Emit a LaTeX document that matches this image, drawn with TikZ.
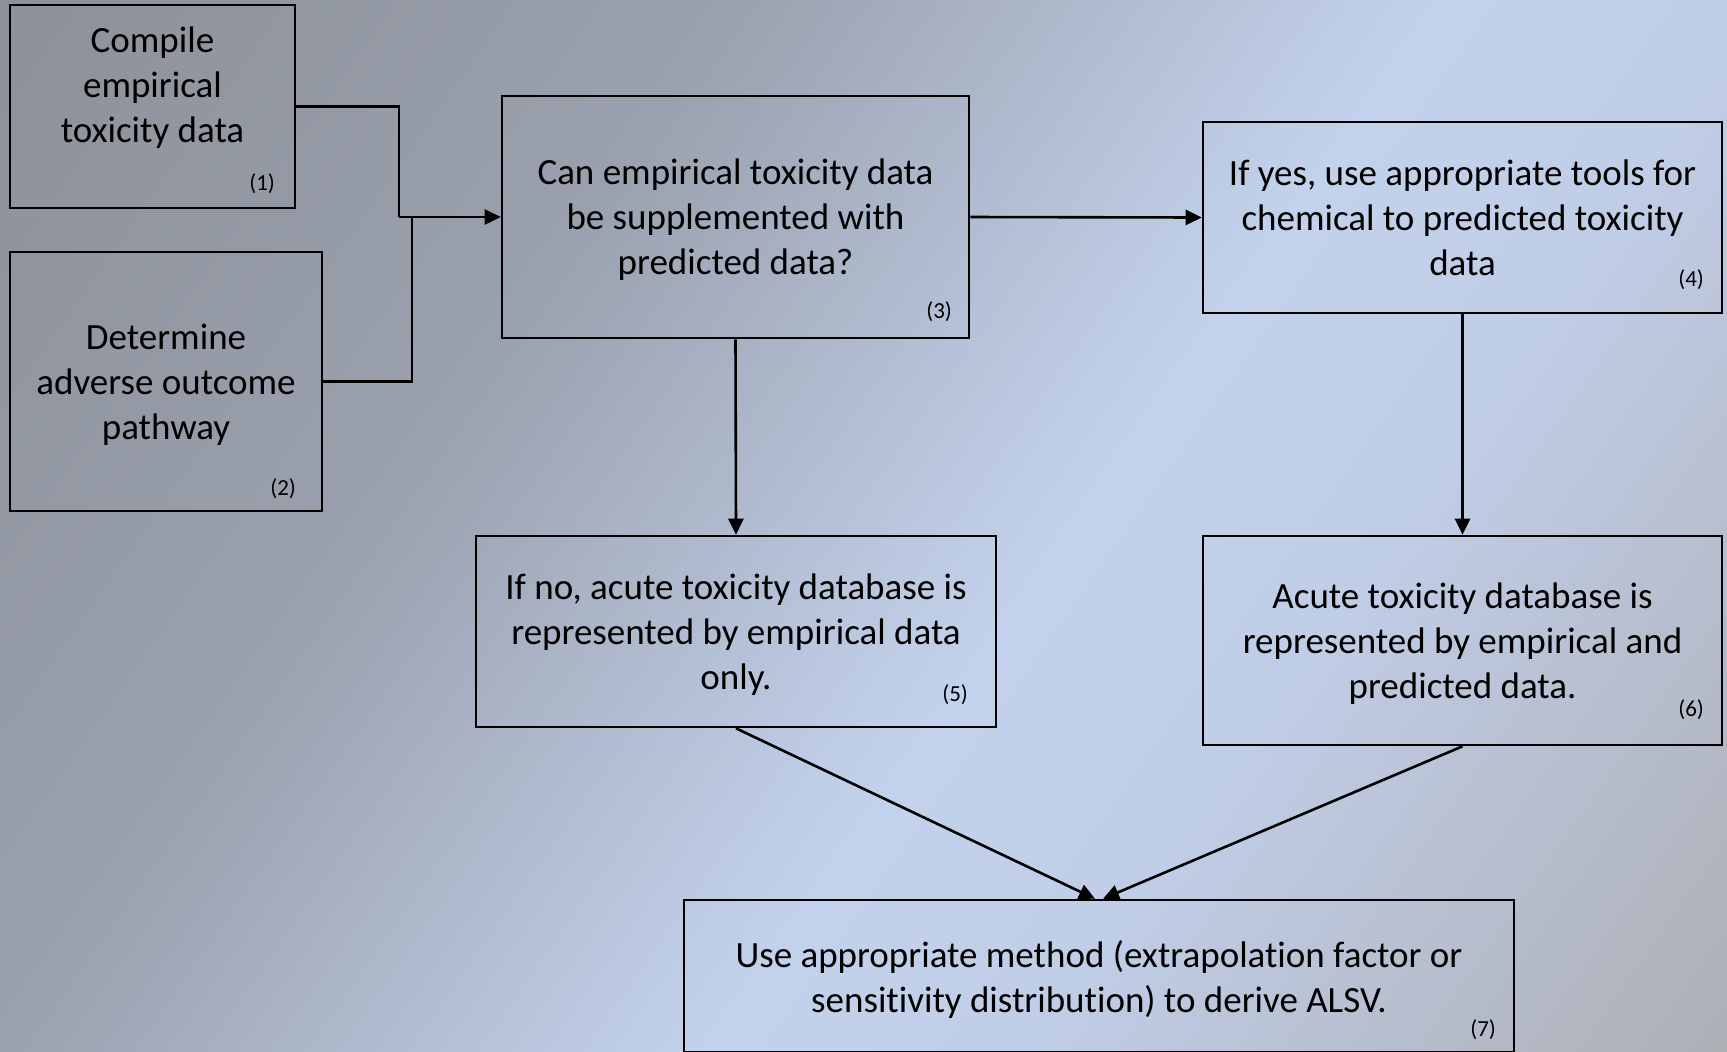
\documentclass[tikz,border=0pt]{standalone}
\usepackage{fontspec}
\setmainfont{Carlito}[Ligatures=NoCommon]
\usetikzlibrary{arrows.meta,calc}
\definecolor{bgA}{HTML}{8C9098}
\definecolor{bgB}{HTML}{9AA1AE}
\definecolor{bgC}{HTML}{C3D2EC}
\definecolor{bgD}{HTML}{C0CDE6}
\definecolor{bgE}{HTML}{ADAFB5}
\pgfdeclarehorizontalshading{bgshade}{100bp}{color(0bp)=(bgA); color(25bp)=(bgA); color(39.87bp)=(bgB); color(54.25bp)=(bgC); color(60.94bp)=(bgD); color(75bp)=(bgE); color(100bp)=(bgE)}
\begin{document}
\begin{tikzpicture}[x=0.5pt,y=-0.5pt,
    box/.style={draw=black,line width=1.3pt,align=center,inner sep=0pt,text depth=0pt,
      font=\fontsize{18.5}{22.5}\selectfont},
    txt/.style={align=center,inner sep=0pt,text depth=0pt,font=\fontsize{18.5}{22.5}\selectfont},
    num/.style={inner sep=0pt,anchor=east,font=\fontsize{11.5}{13}\selectfont},
    link/.style={line width=1.3pt},
    arr/.style={line width=1.3pt,-{Triangle[length=8pt,width=7.5pt]}}]
    \useasboundingbox (0,0) rectangle (1727,1051);
    \begin{scope}
        \clip (0,0) rectangle (1727,1051);
        \shade[shading=bgshade,shading angle=-35] (-145,-483) rectangle (1872,1534);
    \end{scope}
    \node[box,minimum width=142.5pt,minimum height=101.5pt] (b1) at (152.5,106.5) {};
    \node[txt] (t1) at ($(b1.center)+(0,-22)$) {Compile\\empirical\\toxicity data};
    \node[box,minimum width=156pt,minimum height=129.5pt] (b2) at (166,381.5)
        {Determine\\adverse outcome\\pathway};
    \node[box,minimum width=233.5pt,minimum height=121pt] (b3) at (735.5,217)
        {Can empirical toxicity data\\be supplemented with\\predicted data?};
    \node[box,minimum width=259.5pt,minimum height=95.5pt] (b4) at (1462.5,217.5)
        {If yes, use appropriate tools for\\chemical to predicted toxicity\\data};
    \node[box,minimum width=260pt,minimum height=95.5pt] (b5) at (736,631.5)
        {If no, acute toxicity database is\\represented by empirical data\\only.};
    \node[box,minimum width=259.5pt,minimum height=104.5pt] (b6) at (1462.5,640.5)
        {Acute toxicity database is\\represented by empirical and\\predicted data.};
    \node[box,minimum width=415pt,minimum height=76pt] (b7) at (1099,976)
        {Use appropriate method (extrapolation factor or\\sensitivity distribution) to derive ALSV.};
    \node[num] (n1) at ($(b1.south east)+(-21,-26)$) {(1)};
    \node[num] (n2) at ($(b2.south east)+(-27,-24)$) {(2)};
    \node[num] (n3) at ($(b3.south east)+(-18,-28)$) {(3)};
    \node[num] (n4) at ($(b4.south east)+(-19,-35)$) {(4)};
    \node[num] (n5) at ($(b5.south east)+(-29,-34)$) {(5)};
    \node[num] (n6) at ($(b6.south east)+(-19,-37)$) {(6)};
    \node[num] (n7) at ($(b7.south east)+(-19,-24)$) {(7)};
    \coordinate (j1) at (399,217);
    \coordinate (j2) at (412,217);
    \coordinate (in5) at ($(b7.north)+(-4,0)$);
    \coordinate (in6) at ($(b7.north)+(4,0)$);
    \draw[link] (b1.east) -| (j1);
    \draw[link] (b2.east) -| (j2);
    \draw[arr] (j1) -- (b3.west);
    \draw[arr] (b3.east) -- (b4.west);
    \draw[arr] (b3.south) -- (b5.north);
    \draw[arr] (b4.south) -- (b6.north);
    \draw[arr] (b5.south) -- (in5);
    \draw[arr] (b6.south) -- (in6);
\end{tikzpicture}
\end{document}
